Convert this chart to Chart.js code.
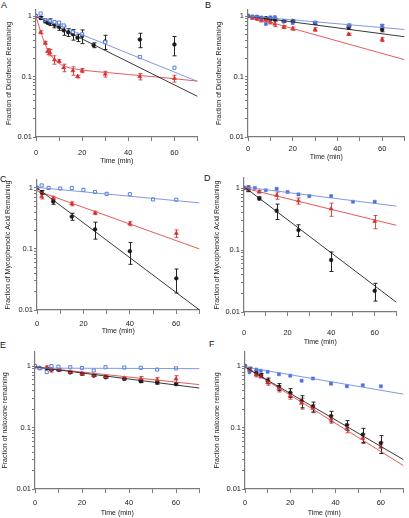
<!DOCTYPE html>
<html><head><meta charset="utf-8">
<script src="https://cdn.jsdelivr.net/npm/chart.js@4"></script>
<style>
html,body{margin:0;padding:0;background:#fff;width:409px;height:518px;overflow:hidden;position:relative;font-family:"Liberation Sans",Arial,sans-serif}
canvas{position:absolute}
.lbl{position:absolute;font-size:9px;color:#111;line-height:1}
</style></head><body>
<div class="lbl" style="left:1px;top:1px">A</div>
<div class="lbl" style="left:205px;top:1px">B</div>
<div class="lbl" style="left:0px;top:175px">C</div>
<div class="lbl" style="left:204px;top:174px">D</div>
<div class="lbl" style="left:0px;top:341px">E</div>
<div class="lbl" style="left:209px;top:340px">F</div>
<canvas id="cA"></canvas><canvas id="cB"></canvas><canvas id="cC"></canvas>
<canvas id="cD"></canvas><canvas id="cE"></canvas><canvas id="cF"></canvas>
<script>
// ---------- tick labels ----------
const xLabelTicks = [0, 20, 40, 60];
const yLabelTicks = [0.01, 0.1, 1];
const xTitle = 'Time (min)';
const titleDiclofenac = 'Fraction of Diclofenac Remaining';
const titleMPA = 'Fraction of Mycophenolic Acid Remaining';
const titleNaloxone = 'Fraction of naloxone remaining';

// ---------- Panel A ----------
const aTimeBlack = [0, 2, 4, 5, 6, 8, 10, 12, 14, 16, 18, 20, 25, 30, 45, 60];
const aBlack     = [1.0, 0.93, 0.83, 0.78, 0.80, 0.72, 0.66, 0.58, 0.54, 0.50, 0.44, 0.47, 0.33, 0.38, 0.41, 0.34];
const aBlackErr  = [0, 0.05, 0.06, 0.05, 0.1, 0.08, 0.08, 0.1, 0.08, 0.1, 0.06, 0.12, 0.03, 0.1, 0.11, 0.12];
const aTimeRed   = [0, 2, 4, 5, 6, 8, 10, 12, 16, 18, 20, 30, 45, 60];
const aRed       = [1.0, 0.54, 0.36, 0.26, 0.25, 0.19, 0.18, 0.14, 0.125, 0.10, 0.126, 0.11, 0.10, 0.093];
const aRedErr    = [0, 0.03, 0.02, 0.03, 0.03, 0.03, 0.01, 0.02, 0.02, 0.005, 0.01, 0.012, 0.012, 0.012];
const aTimeBlue  = [0, 2, 4, 6, 8, 10, 12, 16, 20, 30, 45, 60];
const aBlue      = [1.0, 1.1, 0.86, 0.82, 0.80, 0.78, 0.70, 0.55, 0.50, 0.37, 0.21, 0.14];
const aFitTime   = [0, 70];
const aBlackFit  = [1.0, 0.047];
const aBlueFit   = [1.0, 0.083];
const aRedFitTime = [0, 1, 2, 3, 4, 5, 6, 8, 10, 12, 15, 20, 30, 40, 50, 60, 70];
const aRedFit     = [1.0, 0.74, 0.55, 0.43, 0.34, 0.28, 0.24, 0.19, 0.165, 0.15, 0.138, 0.128, 0.117, 0.108, 0.1, 0.092, 0.084];

// ---------- Panel B ----------
const bTime      = [0, 2, 4, 6, 8, 10, 12, 16, 20, 30, 45, 60];
const bBlack     = [1.0, 0.97, 0.96, 0.93, 0.92, 0.90, 0.88, 0.82, 0.83, 0.77, 0.65, 0.60];
const bBlackErr  = [0, 0.02, 0.03, 0.03, 0.04, 0.05, 0.04, 0.03, 0.03, 0.04, 0.05, 0.05];
const bRed       = [1.0, 0.93, 0.90, 0.85, 0.86, 0.80, 0.74, 0.66, 0.62, 0.60, 0.50, 0.41];
const bRedErr    = [0, 0.04, 0.05, 0.05, 0.06, 0.06, 0.07, 0.04, 0.04, 0.04, 0.02, 0.03];
const bBlue      = [1.0, 0.98, 0.98, 0.94, 0.74, 0.95, 0.96, 0.82, 0.77, 0.78, 0.70, 0.69];
const bBlueErr   = [0, 0, 0, 0, 0, 0, 0, 0, 0, 0, 0.04, 0.04];
const bFitTime   = [0, 70];
const bBlackFit  = [1.0, 0.455];
const bRedFit    = [1.0, 0.19];
const bBlueFit   = [1.0, 0.60];

// ---------- Panel C ----------
const cTime      = [0, 2, 7, 15, 25, 40, 60];
const cBlack     = [1.0, 0.85, 0.60, 0.34, 0.21, 0.092, 0.033];
const cBlackErr  = [0, 0.06, 0.06, 0.045, 0.065, 0.036, 0.014];
const cRed       = [1.0, 0.72, 0.68, 0.55, 0.39, 0.26, 0.18];
const cRedErr    = [0, 0.06, 0.05, 0.04, 0.025, 0.02, 0.025];
const cTimeBlue  = [0, 2, 5, 10, 15, 20, 25, 30, 40, 50, 60];
const cBlue      = [1.0, 1.1, 1.0, 0.98, 1.0, 0.93, 0.86, 0.80, 0.79, 0.65, 0.64];
const cFitTime   = [0, 70];
const cBlackFit  = [1.0, 0.01];
const cRedFit    = [0.90, 0.10];
const cBlueFit   = [1.02, 0.57];

// ---------- Panel D ----------
const dTime      = [0, 2, 7, 15, 25, 40, 60];
const dBlack     = [1.0, 0.98, 0.68, 0.43, 0.21, 0.069, 0.022];
const dBlackErr  = [0, 0.1, 0.04, 0.12, 0.045, 0.024, 0.007];
const dRed       = [1.0, 0.95, 0.87, 0.76, 0.62, 0.46, 0.29];
const dRedErr    = [0, 0.08, 0.04, 0.1, 0.07, 0.11, 0.07];
const dTimeBlue  = [0, 2, 5, 10, 15, 20, 25, 30, 40, 50, 60];
const dBlue      = [1.0, 1.0, 1.0, 0.92, 0.97, 0.86, 0.79, 0.74, 0.74, 0.60, 0.60];
const dFitTime   = [0, 70];
const dBlackFit  = [1.05, 0.0143];
const dRedFit    = [1.0, 0.25];
const dBlueFit   = [1.04, 0.51];

// ---------- Panel E ----------
const eTime      = [0, 2, 5, 7, 10, 15, 20, 25, 30, 38, 45, 52, 60];
const eBlack     = [1.0, 0.93, 0.92, 0.88, 0.87, 0.79, 0.75, 0.70, 0.66, 0.62, 0.57, 0.54, 0.51];
const eBlackErr  = [0, 0.02, 0.03, 0.03, 0.03, 0.03, 0.03, 0.02, 0.02, 0.02, 0.03, 0.03, 0.02];
const eRed       = [1.0, 0.93, 0.95, 0.88, 0.87, 0.80, 0.75, 0.71, 0.67, 0.64, 0.62, 0.60, 0.62];
const eRedErr    = [0, 0.02, 0.06, 0.08, 0.04, 0.03, 0.03, 0.02, 0.03, 0.02, 0.06, 0.05, 0.08];
const eBlue      = [1.0, 0.93, 0.80, 1.0, 0.98, 0.96, 0.93, 0.85, 0.96, 0.95, 0.94, 0.88, 0.92];
const eFitTime   = [0, 70];
const eBlackFit  = [0.97, 0.44];
const eRedFit    = [0.97, 0.50];
const eBlueFit   = [0.93, 0.91];

// ---------- Panel F ----------
const fTime      = [0, 2, 5, 7, 10, 15, 20, 25, 30, 38, 45, 52, 60];
const fBlack     = [1.0, 0.90, 0.78, 0.71, 0.58, 0.46, 0.37, 0.27, 0.22, 0.154, 0.11, 0.077, 0.056];
const fBlackErr  = [0, 0.06, 0.06, 0.05, 0.06, 0.06, 0.06, 0.06, 0.04, 0.03, 0.02, 0.02, 0.018];
const fRed       = [1.0, 0.87, 0.72, 0.68, 0.54, 0.43, 0.33, 0.25, 0.205, 0.138, 0.097, 0.067, 0.048];
const fRedErr    = [0, 0.05, 0.05, 0.04, 0.05, 0.05, 0.04, 0.05, 0.03, 0.02, 0.015, 0.012, 0.01];
const fBlue      = [1.0, 0.80, 0.88, 0.84, 0.81, 0.74, 0.70, 0.58, 0.63, 0.52, 0.47, 0.49, 0.47];
const fFitTime   = [0, 70];
const fBlackFit  = [0.97, 0.030];
const fRedFit    = [0.97, 0.024];
const fBlueFit   = [0.97, 0.35];

// ---------- styles ----------
const BLACK = '#1a1a1a', RED = '#d42a2a', BLUE = '#4a6fdc';
const BLACK_LINE = '#222222', RED_LINE = '#e04848', BLUE_LINE = '#6f8fe3';
const AXIS = '#7a7a7a';

Chart.defaults.font.family = '"Liberation Sans", Arial, sans-serif';
Chart.defaults.font.size = 7;
Chart.defaults.color = '#222';

const pts = (xs, ys) => xs.map((x, i) => ({x: x, y: ys[i]}));

const errorBars = {
  id: 'errorBars',
  beforeDatasetsDraw(chart) {
    const {ctx, scales: {x, y}} = chart;
    chart.data.datasets.forEach((ds, i) => {
      if (!ds.errors) return;
      ctx.save();
      ctx.beginPath();
      ctx.rect(chart.chartArea.left, chart.chartArea.top - 20, chart.chartArea.right - chart.chartArea.left, chart.chartArea.bottom - chart.chartArea.top + 20);
      ctx.clip();
      ctx.strokeStyle = ds.errorColor;
      ctx.lineWidth = 1;
      ds.data.forEach((p, j) => {
        const e = ds.errors[j];
        if (!e) return;
        const px = Math.round(x.getPixelForValue(p.x)) + 0.5;
        const t = y.getPixelForValue(p.y + e);
        const b = y.getPixelForValue(Math.max(p.y - e, 0.0001));
        ctx.beginPath();
        ctx.moveTo(px, t); ctx.lineTo(px, b);
        ctx.moveTo(px - 2, t); ctx.lineTo(px + 2, t);
        ctx.moveTo(px - 2, b); ctx.lineTo(px + 2, b);
        ctx.stroke();
      });
      ctx.restore();
    });
  }
};

function markerSet(kind, xs, ys, errs, open) {
  const base = {data: pts(xs, ys), showLine: false, errors: errs || null};
  if (kind === 'black') return Object.assign(base, {pointStyle: 'circle', pointRadius: 1.9, backgroundColor: BLACK, borderColor: BLACK, borderWidth: 0.5, errorColor: '#222'});
  if (kind === 'red') return Object.assign(base, {pointStyle: 'triangle', pointRadius: 2.4, backgroundColor: RED, borderColor: RED, borderWidth: 0.5, errorColor: 'rgba(205,50,50,0.85)'});
  return Object.assign(base, {pointStyle: 'rect', pointRadius: 2.2, backgroundColor: open ? '#ffffff' : BLUE, borderColor: BLUE, borderWidth: open ? 0.9 : 0.5, errorColor: BLUE});
}
function fitSet(color, xs, ys, curved) {
  return {data: pts(xs, ys), showLine: true, pointRadius: 0, borderColor: color, borderWidth: 0.9, fill: false, cubicInterpolationMode: curved ? 'monotone' : 'default', tension: 0};
}

function makePanel(id, L, yTitle, datasets) {
  const cv = document.getElementById(id);
  cv.width = L.w; cv.height = L.h;
  cv.style.left = L.left + 'px'; cv.style.top = L.top + 'px';
  cv.style.width = L.w + 'px'; cv.style.height = L.h + 'px';
  const yMinor = [];
  [0.01, 0.1].forEach(d => { for (let k = 1; k <= 9; k++) yMinor.push(+(k * d).toPrecision(3)); });
  yMinor.push(1);
  new Chart(cv, {
    type: 'scatter',
    data: {datasets: datasets},
    plugins: [errorBars],
    options: {
      responsive: false, animation: false, devicePixelRatio: 1,
      layout: {padding: {top: L.padTop, right: L.padRight, left: 0, bottom: 0}},
      plugins: {legend: {display: false}, tooltip: {enabled: false}},
      scales: {
        x: {
          type: 'linear', min: 0, max: 70,
          border: {display: true, color: AXIS, width: 1.2},
          grid: {drawOnChartArea: false, drawTicks: true, tickLength: 4, color: AXIS},
          ticks: {stepSize: 10, autoSkip: false, maxRotation: 0, padding: L.xTickPad, color: '#222', font: {size: 7.5},
                  callback: v => xLabelTicks.includes(v) ? String(v) : ''},
          title: {display: true, text: xTitle, color: '#222', padding: {top: 0, bottom: L.xTitlePad}},
          afterFit: s => { s.height = L.xH; }
        },
        y: {
          type: 'logarithmic', min: 0.01, max: L.ymax,
          border: {display: true, color: AXIS, width: 1.2},
          grid: {drawOnChartArea: false, drawTicks: true, tickLength: 3, color: AXIS},
          ticks: {autoSkip: false, padding: 1, color: '#222', font: {size: 7.5},
                  callback: v => { const m = yLabelTicks.find(t => Math.abs(Math.log10(t) - Math.log10(v)) < 1e-6); return m !== undefined ? String(m) : ''; }},
          afterBuildTicks: s => { s.ticks = yMinor.map(v => ({value: v})); },
          title: {display: true, text: yTitle, color: '#222', padding: {top: L.yTitlePad, bottom: 0}},
          afterFit: s => { s.width = L.yW; }
        }
      }
    }
  });
}

const layouts = {
  A: {left: 0,   top: 0,   w: 205, h: 170, yW: 36, xH: 33, padTop: 10, padRight: 7,   ymax: 1.26, yTitlePad: 4.8, xTitlePad: 4.8, xTickPad: 7.5},
  B: {left: 205, top: 0,   w: 204, h: 170, yW: 43, xH: 33, padTop: 10, padRight: 2,   ymax: 1.26, yTitlePad: 9.8, xTitlePad: 8.8, xTickPad: 3.5},
  C: {left: 0,   top: 170, w: 205, h: 170, yW: 37, xH: 30, padTop: 10, padRight: 5,   ymax: 1.35, yTitlePad: 3.8, xTitlePad: 4.8, xTickPad: 5.5},
  D: {left: 205, top: 170, w: 204, h: 180, yW: 39, xH: 38, padTop: 8,  padRight: 0,   ymax: 1.45, yTitlePad: 8.1, xTitlePad: 3.8, xTickPad: 12.5},
  E: {left: 0,   top: 340, w: 205, h: 178, yW: 35, xH: 29, padTop: 12, padRight: 5.5, ymax: 1.7,  yTitlePad: 0.8, xTitlePad: 0.8, xTickPad: 5.5},
  F: {left: 205, top: 340, w: 204, h: 178, yW: 40, xH: 29, padTop: 12, padRight: 2,   ymax: 1.7,  yTitlePad: 8.1, xTitlePad: 0.8, xTickPad: 5.5}
};

makePanel('cA', layouts.A, titleDiclofenac, [
  fitSet(BLUE_LINE, aFitTime, aBlueFit), fitSet(BLACK_LINE, aFitTime, aBlackFit), fitSet(RED_LINE, aRedFitTime, aRedFit, true),
  markerSet('blue', aTimeBlue, aBlue, null, true), markerSet('red', aTimeRed, aRed, aRedErr), markerSet('black', aTimeBlack, aBlack, aBlackErr)
]);
makePanel('cB', layouts.B, titleDiclofenac, [
  fitSet(BLUE_LINE, bFitTime, bBlueFit), fitSet(BLACK_LINE, bFitTime, bBlackFit), fitSet(RED_LINE, bFitTime, bRedFit),
  markerSet('blue', bTime, bBlue, bBlueErr, false), markerSet('red', bTime, bRed, bRedErr), markerSet('black', bTime, bBlack, bBlackErr)
]);
makePanel('cC', layouts.C, titleMPA, [
  fitSet(BLUE_LINE, cFitTime, cBlueFit), fitSet(BLACK_LINE, cFitTime, cBlackFit), fitSet(RED_LINE, cFitTime, cRedFit),
  markerSet('blue', cTimeBlue, cBlue, null, true), markerSet('red', cTime, cRed, cRedErr), markerSet('black', cTime, cBlack, cBlackErr)
]);
makePanel('cD', layouts.D, titleMPA, [
  fitSet(BLUE_LINE, dFitTime, dBlueFit), fitSet(BLACK_LINE, dFitTime, dBlackFit), fitSet(RED_LINE, dFitTime, dRedFit),
  markerSet('blue', dTimeBlue, dBlue, null, false), markerSet('red', dTime, dRed, dRedErr), markerSet('black', dTime, dBlack, dBlackErr)
]);
makePanel('cE', layouts.E, titleNaloxone, [
  fitSet(BLUE_LINE, eFitTime, eBlueFit), fitSet(BLACK_LINE, eFitTime, eBlackFit), fitSet(RED_LINE, eFitTime, eRedFit),
  markerSet('blue', eTime, eBlue, null, true), markerSet('red', eTime, eRed, eRedErr), markerSet('black', eTime, eBlack, eBlackErr)
]);
makePanel('cF', layouts.F, titleNaloxone, [
  fitSet(BLUE_LINE, fFitTime, fBlueFit), fitSet(BLACK_LINE, fFitTime, fBlackFit), fitSet(RED_LINE, fFitTime, fRedFit),
  markerSet('blue', fTime, fBlue, null, false), markerSet('red', fTime, fRed, fRedErr), markerSet('black', fTime, fBlack, fBlackErr)
]);
</script>
</body></html>
